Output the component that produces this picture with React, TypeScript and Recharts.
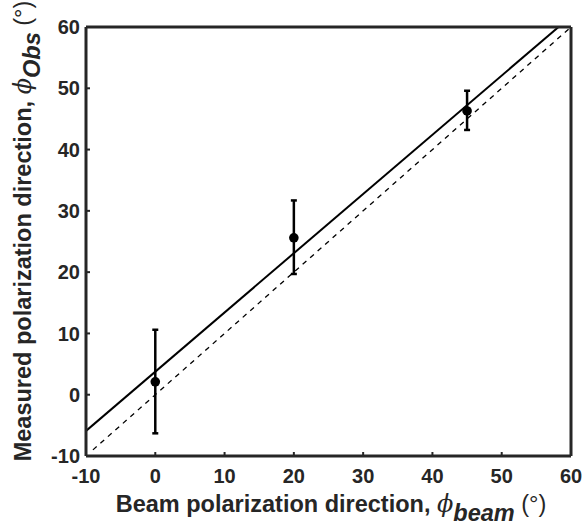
import {
  ComposedChart,
  Line,
  Scatter,
  ErrorBar,
  XAxis,
  YAxis,
} from "recharts";

// measured points (beam direction vs observed direction)
const beamAngles = [0, 20, 45];
const observedAngles = [2.1, 25.6, 46.3];
const errLow = [-6.3, 19.7, 43.2];
const errHigh = [10.6, 31.7, 49.6];

// linear fit endpoints and the ideal y = x reference
const fitX = [-10, 58.2];
const fitY = [-5.9, 60];
const idealX = [-9, 60];
const idealY = [-9, 60];

const xTicks = [-10, 0, 10, 20, 30, 40, 50, 60];
const yTicks = [-10, 0, 10, 20, 30, 40, 50, 60];

const INK = "#262626";
const FONT = "'Liberation Sans', Arial, Helvetica, sans-serif";

const points = beamAngles.map((x, i) => ({
  x,
  y: observedAngles[i],
  err: [observedAngles[i] - errLow[i], errHigh[i] - observedAngles[i]],
}));
const fitData = fitX.map((x, i) => ({ x, y: fitY[i] }));
const idealData = idealX.map((x, i) => ({ x, y: idealY[i] }));

const tickStyle = { fill: INK, fontSize: 20, fontWeight: 700, fontFamily: FONT };

function XTitle() {
  return (
    <text x={331} y={512} textAnchor="middle" fill={INK} fontFamily={FONT} fontSize={23.5}>
      <tspan fontWeight={700}>Beam polarization direction, </tspan>
      <tspan fontStyle="italic" fontFamily="'DejaVu Serif', serif" fontSize={24}>ϕ</tspan>
      <tspan fontWeight={700} fontStyle="italic" dy={9}>beam</tspan>
      <tspan dy={-9}> (°)</tspan>
    </text>
  );
}

function YTitle() {
  return (
    <text
      x={31}
      y={231}
      transform="rotate(-90, 31, 231)"
      textAnchor="middle"
      fill={INK}
      fontFamily={FONT}
      fontSize={23.5}
    >
      <tspan fontWeight={700}>Measured polarization direction, </tspan>
      <tspan fontStyle="italic" fontFamily="'DejaVu Serif', serif" fontSize={24}>ϕ</tspan>
      <tspan fontWeight={700} fontStyle="italic" dy={9}>Obs</tspan>
      <tspan dy={-9}> (°)</tspan>
    </text>
  );
}

export default function App() {
  return (
    <div style={{ position: "absolute", left: 0, top: 0, background: "#fff" }}>
      <ComposedChart
        width={585}
        height={526}
        margin={{ top: 26, right: 13, left: 85, bottom: 69 }}
      >
        <XAxis
          xAxisId="b"
          dataKey="x"
          type="number"
          domain={[-10, 60]}
          ticks={xTicks}
          allowDataOverflow
          height={1}
          axisLine={{ stroke: INK, strokeWidth: 3 }}
          tickLine={{ stroke: INK, strokeWidth: 2 }}
          tickSize={-4}
          tickMargin={17}
          tick={tickStyle}
        />
        <XAxis
          xAxisId="t"
          dataKey="x"
          type="number"
          orientation="top"
          domain={[-10, 60]}
          ticks={xTicks}
          height={1}
          axisLine={{ stroke: INK, strokeWidth: 3 }}
          tickLine={{ stroke: INK, strokeWidth: 2 }}
          tickSize={-4}
          tick={false}
        />
        <YAxis
          yAxisId="l"
          dataKey="y"
          type="number"
          domain={[-10, 60]}
          ticks={yTicks}
          allowDataOverflow
          width={1}
          axisLine={{ stroke: INK, strokeWidth: 3 }}
          tickLine={{ stroke: INK, strokeWidth: 2 }}
          tickSize={-4}
          tickMargin={10}
          tick={tickStyle}
        />
        <YAxis
          yAxisId="r"
          dataKey="y"
          type="number"
          orientation="right"
          domain={[-10, 60]}
          ticks={yTicks}
          width={1}
          axisLine={{ stroke: INK, strokeWidth: 3 }}
          tickLine={{ stroke: INK, strokeWidth: 2 }}
          tickSize={-4}
          tick={false}
        />
        <Line
          xAxisId="b"
          yAxisId="l"
          data={idealData}
          dataKey="y"
          type="linear"
          stroke="#000"
          strokeWidth={1.3}
          strokeDasharray="5 5"
          dot={false}
          isAnimationActive={false}
        />
        <Line
          xAxisId="b"
          yAxisId="l"
          data={fitData}
          dataKey="y"
          type="linear"
          stroke="#000"
          strokeWidth={2}
          dot={false}
          isAnimationActive={false}
        />
        <Scatter
          xAxisId="b"
          yAxisId="l"
          data={points}
          dataKey="y"
          fill="#000"
          shape={(p: any) => <circle cx={p.cx} cy={p.cy} r={4.8} fill="#000" />}
          isAnimationActive={false}
        >
          <ErrorBar
            dataKey="err"
            direction="y"
            width={3}
            stroke="#000"
            strokeWidth={2.5}
            isAnimationActive={false}
          />
        </Scatter>
        <XTitle />
        <YTitle />
      </ComposedChart>
    </div>
  );
}
